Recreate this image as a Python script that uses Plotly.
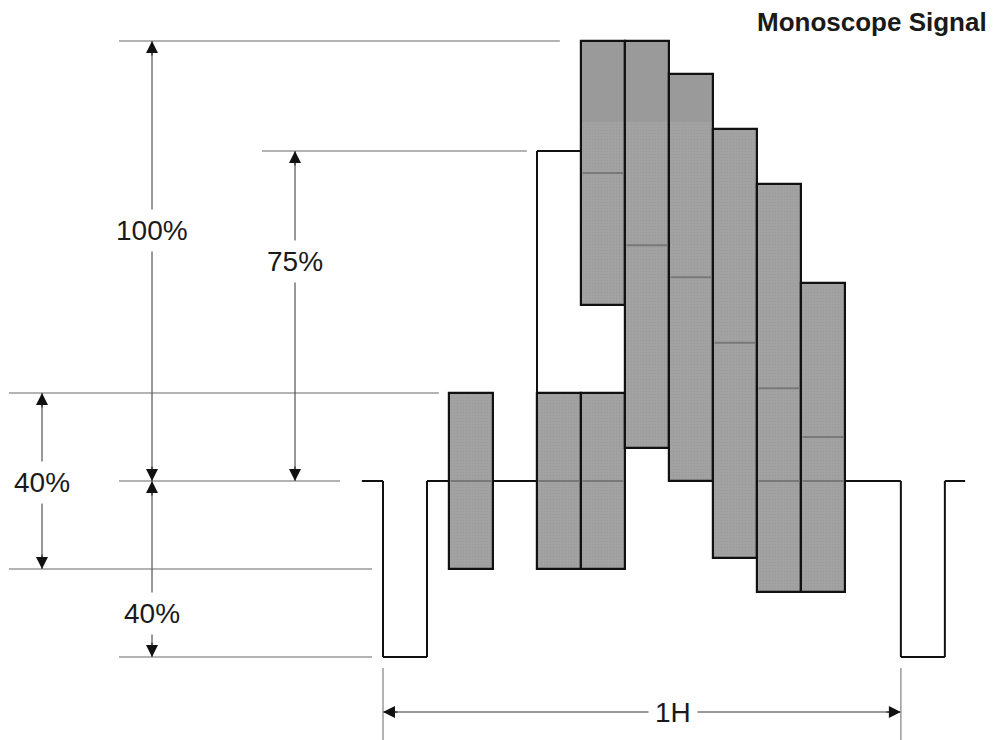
import plotly.graph_objects as go

# ---------------- data (x in bar-slot units from sync edge, y in % of white) ----------------
LINE_START = -0.48
LINE_END = 13.23
SYNC_WIDTH = 1.0
H_LEN = 11.77
BLANK = 0.0
SYNC_LEVEL = -40.0
STEP_X = 3.5
STEP_LEVEL = 75.0

burst_centers = [2.0, 4.0, 5.0]
burst_tops = [20.0, 20.0, 20.0]
burst_bottoms = [-20.0, -20.0, -20.0]
burst_mids = [[0.0], [0.0], [0.0]]

luma_centers = [5.0, 6.0, 7.0, 8.0, 9.0, 10.0]
luma_tops = [100.0, 100.0, 92.5, 80.0, 67.5, 45.0]
luma_bottoms = [40.0, 7.4, 0.0, -17.5, -25.2, -25.2]
luma_mids = [[70.0], [53.6], [46.3], [31.4], [21.1, 0.0], [10.0, 0.0]]
BAND_LEVEL = 81.6

ref_levels = [100, 75, 20, 0, -20, -40]
ref_x0 = [-6.0, -2.75, -8.5, -6.0, -8.5, -6.0]
ref_x1 = [4.02, 3.27, 1.27, -0.98, -0.25, -0.25]

dim_x = [-5.25, -2.0, -7.75, -5.25]
dim_lo = [0, 0, -20, -40]
dim_hi = [100, 75, 20, 0]
dim_labels = ["100%", "75%", "40%", "40%"]
dim_label_y = [57.0, 49.8, -0.45, -30.2]

H_ARROW_Y = -52.5
H_LABEL = "1H"
H_LABEL_X = 6.6
H_EXT_TOP = -42.5

TITLE = "Monoscope Signal"

X_RANGE = [-8.705, 13.955]
Y_RANGE = [-58.86, 109.32]

FONT = "Liberation Sans, Arial, sans-serif"
BAR_FILL = "#a2a2a2"
BAND_FILL = "#9a9a9a"
EDGE = "#111111"
MID_LINE = "#787878"
REF_LINE = "#9a9a9a"
DIM_LINE = "#555555"

fig = go.Figure()

centers = burst_centers + luma_centers
tops = burst_tops + luma_tops
bottoms = burst_bottoms + luma_bottoms
mids = burst_mids + luma_mids

# bar fill
fig.add_trace(go.Bar(
    x=centers, y=[t - b for t, b in zip(tops, bottoms)], base=bottoms, width=1.0,
    marker=dict(color=BAR_FILL, line=dict(width=0),
                pattern=dict(shape=".", size=3, solidity=0.25, fgcolor="#949494",
                             bgcolor=BAR_FILL, fillmode="overlay")),
    hoverinfo="skip", showlegend=False))

# darker top band
band_c = [c for c, t in zip(luma_centers, luma_tops) if t > BAND_LEVEL]
band_t = [t for t in luma_tops if t > BAND_LEVEL]
fig.add_trace(go.Bar(
    x=band_c, y=[t - BAND_LEVEL for t in band_t], base=[BAND_LEVEL] * len(band_t), width=1.0,
    marker=dict(color=BAND_FILL, line=dict(width=0)),
    hoverinfo="skip", showlegend=False))

# outlines
fig.add_trace(go.Bar(
    x=centers, y=[t - b for t, b in zip(tops, bottoms)], base=bottoms, width=1.0,
    marker=dict(color="rgba(0,0,0,0)", line=dict(color=EDGE, width=2.2)),
    hoverinfo="skip", showlegend=False))

# internal level lines
mx, my = [], []
INSET = 0.035
for c, ms in zip(centers, mids):
    for m in ms:
        mx += [c - 0.5 + INSET, c + 0.5 - INSET, None]
        my += [m, m, None]
fig.add_trace(go.Scatter(x=mx, y=my, mode="lines", line=dict(color=MID_LINE, width=2),
                         hoverinfo="skip", showlegend=False))

# signal path (drawn beneath bars)
sig_x = [LINE_START, 0, 0, SYNC_WIDTH, SYNC_WIDTH, STEP_X, STEP_X, STEP_X + 1.0]
sig_y = [BLANK, BLANK, SYNC_LEVEL, SYNC_LEVEL, BLANK, BLANK, STEP_LEVEL, STEP_LEVEL]
sig2_x = [luma_centers[-1] + 0.5, H_LEN, H_LEN, H_LEN + SYNC_WIDTH, H_LEN + SYNC_WIDTH, LINE_END]
sig2_y = [BLANK, BLANK, SYNC_LEVEL, SYNC_LEVEL, BLANK, BLANK]
shapes = []
for xs, ys in ((sig_x, sig_y), (sig2_x, sig2_y)):
    for i in range(len(xs) - 1):
        shapes.append(dict(type="line", x0=xs[i], y0=ys[i], x1=xs[i + 1], y1=ys[i + 1],
                           line=dict(color=EDGE, width=2), layer="below"))

# reference lines
for lv, a, b in zip(ref_levels, ref_x0, ref_x1):
    shapes.append(dict(type="line", x0=a, x1=b, y0=lv, y1=lv,
                       line=dict(color=REF_LINE, width=1.5), layer="below"))

# dimension lines
for x, lo, hi in zip(dim_x, dim_lo, dim_hi):
    shapes.append(dict(type="line", x0=x, x1=x, y0=lo, y1=hi,
                       line=dict(color=DIM_LINE, width=1.2), layer="below"))

# 1H dimension
shapes.append(dict(type="line", x0=0, x1=H_LEN, y0=H_ARROW_Y, y1=H_ARROW_Y,
                   line=dict(color="#777777", width=1.5), layer="below"))
for xe in (0, H_LEN):
    shapes.append(dict(type="line", x0=xe, x1=xe, y0=H_EXT_TOP, y1=Y_RANGE[0],
                       line=dict(color="#9a9a9a", width=1.5), layer="below"))

annotations = []
HEAD = dict(text="", showarrow=True, arrowhead=2, arrowsize=2.4, arrowwidth=1,
            arrowcolor=EDGE, standoff=0, xref="x", yref="y")
for x, lo, hi in zip(dim_x, dim_lo, dim_hi):
    annotations.append(dict(HEAD, x=x, y=hi, ax=0, ay=16))
    annotations.append(dict(HEAD, x=x, y=lo, ax=0, ay=-16))
annotations.append(dict(HEAD, x=0, y=H_ARROW_Y, ax=16, ay=0))
annotations.append(dict(HEAD, x=H_LEN, y=H_ARROW_Y, ax=-16, ay=0))

for x, ly, t in zip(dim_x, dim_label_y, dim_labels):
    annotations.append(dict(x=x, y=ly, xref="x", yref="y", text=t, showarrow=False,
                            font=dict(family=FONT, size=28, color="#1a1a1a"),
                            bgcolor="white", borderpad=5))
annotations.append(dict(x=H_LABEL_X, y=H_ARROW_Y, xref="x", yref="y", text=H_LABEL,
                        showarrow=False, font=dict(family=FONT, size=28, color="#1a1a1a"),
                        bgcolor="white", borderpad=6))
annotations.append(dict(x=0.992, y=1 - 22 / 740, xref="paper", yref="paper", text="<b>" + TITLE + "</b>",
                        xanchor="right", yanchor="middle", showarrow=False,
                        font=dict(family=FONT, size=26, color="#1a1a1a")))

fig.update_layout(
    width=997, height=740, margin=dict(l=0, r=0, t=0, b=0),
    paper_bgcolor="white", plot_bgcolor="white",
    barmode="overlay", bargap=0,
    xaxis=dict(range=X_RANGE, visible=False, fixedrange=True),
    yaxis=dict(range=Y_RANGE, visible=False, fixedrange=True),
    shapes=shapes, annotations=annotations, showlegend=False,
)

fig.write_html("out.html", config={"displayModeBar": False},
               post_script="document.body.style.margin='0';document.body.style.overflow='hidden';")
